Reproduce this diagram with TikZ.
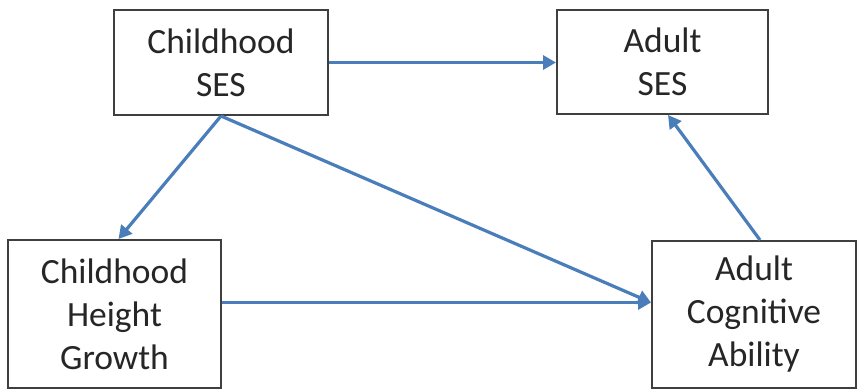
\documentclass[tikz,border=0pt]{standalone}
\usepackage{fontspec}
\setmainfont{Carlito}
\usetikzlibrary{arrows.meta}
\definecolor{arrowblue}{HTML}{4A7EBB}
\definecolor{boxgrey}{HTML}{3F3F3F}
\tikzset{
  box/.style={draw=boxgrey, line width=2pt, fill=white, align=center, inner sep=0pt,
    font=\fontsize{35.5}{43}\selectfont, text=black!85},
  link/.style={draw=arrowblue, line width=3.2pt, -{Triangle[length=13pt,width=14pt]}}
}
\begin{document}
\begin{tikzpicture}[x=1pt,y=-1pt]
\useasboundingbox (0,0) rectangle (859,389);
\node[box, minimum width=214pt, minimum height=105pt] (cses) at (221,62.5) {Childhood\\SES};
\node[box, minimum width=211pt, minimum height=104pt] (ases) at (662.5,62) {Adult\\SES};
\node[box, minimum width=213pt, minimum height=148pt] (chg) at (114.5,314) {Childhood\\Height\\Growth};
\node[box, minimum width=204pt, minimum height=147pt] (aca) at (754,314.5) {Adult\\Cognitive\\Ability};
\coordinate (chgtop) at ([xshift=4pt]chg.north);
\coordinate (acain) at ([yshift=12pt]aca.west);
\coordinate (acaout) at ([xshift=6pt]aca.north);
\coordinate (asesin) at ([xshift=5.5pt]ases.south);
\draw[link] (cses.east) -- (cses.east -| ases.west);
\draw[link] (cses.south) -- (chgtop);
\draw[link] (cses.south) -- (acain);
\draw[link] (chg.east |- acain) -- (acain);
\draw[link] (acaout) -- (asesin);
\end{tikzpicture}
\end{document}
